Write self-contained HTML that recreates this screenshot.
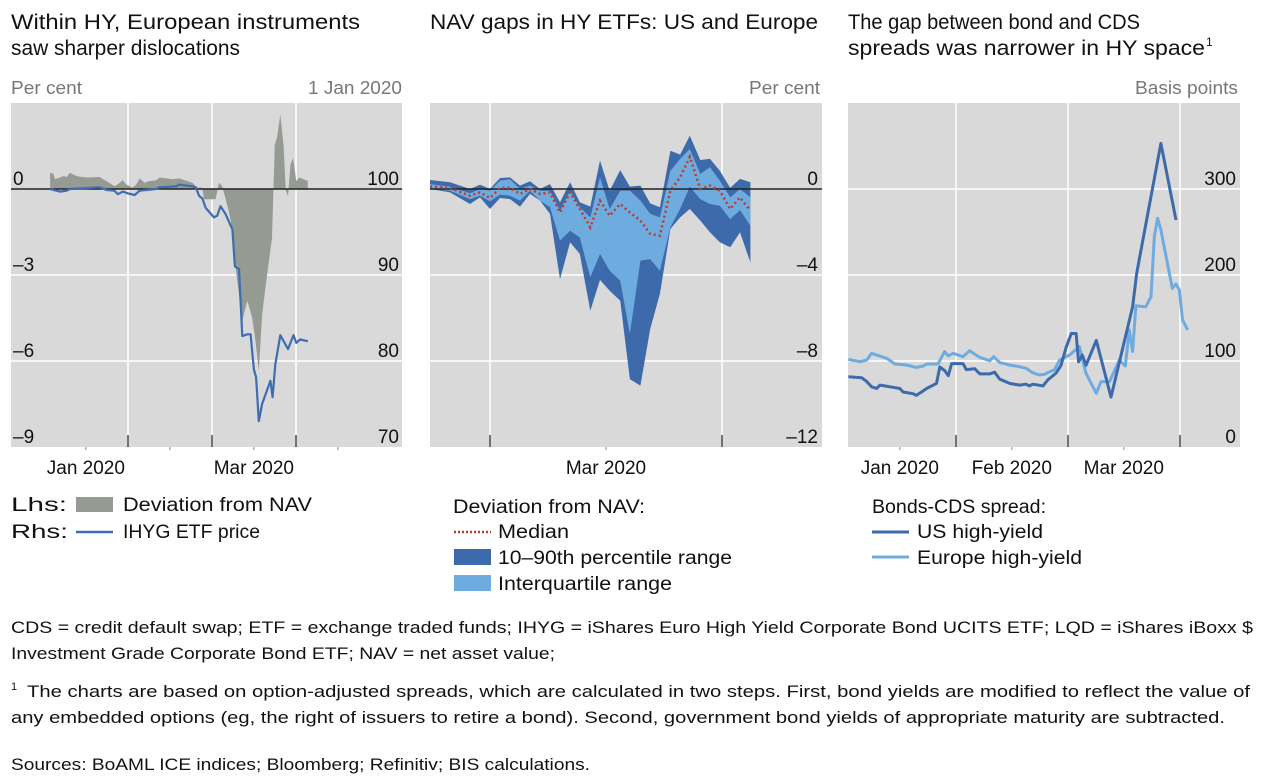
<!DOCTYPE html>
<html><head><meta charset="utf-8"><style>
html,body{margin:0;padding:0;background:#fff;}
svg{display:block;font-family:"Liberation Sans",sans-serif;}
</style></head><body>
<svg id="root" width="1262" height="782" viewBox="0 0 1262 782">
<g font-size="21" fill="#111">
<text x="11" y="29" textLength="349" lengthAdjust="spacingAndGlyphs">Within HY, European instruments</text>
<text x="11" y="55" textLength="229" lengthAdjust="spacingAndGlyphs">saw sharper dislocations</text>
<text x="430" y="29" textLength="388" lengthAdjust="spacingAndGlyphs">NAV gaps in HY ETFs: US and Europe</text>
<text x="848" y="29" textLength="292" lengthAdjust="spacingAndGlyphs">The gap between bond and CDS</text>
<text x="848" y="55" textLength="357" lengthAdjust="spacingAndGlyphs">spreads was narrower in HY space</text>
<text x="1206" y="46" font-size="12">1</text>
</g>
<g font-size="18" fill="#777">
<text x="11" y="94" textLength="71" lengthAdjust="spacingAndGlyphs">Per cent</text>
<text x="308" y="94" textLength="94" lengthAdjust="spacingAndGlyphs">1 Jan 2020</text>
<text x="749" y="94" textLength="71" lengthAdjust="spacingAndGlyphs">Per cent</text>
<text x="1135" y="94" textLength="103" lengthAdjust="spacingAndGlyphs">Basis points</text>
</g>
<g id="p1"></g>
<g id="p2"></g>
<g id="p3"></g>
<g font-size="19" fill="#111">
<g>
<text x="11" y="511" textLength="56" lengthAdjust="spacingAndGlyphs">Lhs:</text>
<rect x="76" y="497" width="37" height="15" fill="#959a93"/>
<text x="123" y="511" textLength="189" lengthAdjust="spacingAndGlyphs">Deviation from NAV</text>
<text x="11" y="538" textLength="57" lengthAdjust="spacingAndGlyphs">Rhs:</text>
<line x1="76" y1="532" x2="113" y2="532" stroke="#3e6db0" stroke-width="2.5"/>
<text x="123" y="538" textLength="137" lengthAdjust="spacingAndGlyphs">IHYG ETF price</text>
</g>
<g>
<text x="453" y="513" textLength="192" lengthAdjust="spacingAndGlyphs">Deviation from NAV:</text>
<line x1="454" y1="532" x2="491" y2="532" stroke="#c0392b" stroke-width="2.5" stroke-dasharray="2,2"/>
<text x="498" y="538" textLength="71" lengthAdjust="spacingAndGlyphs">Median</text>
<rect x="454" y="549" width="37" height="16" fill="#3c6aab"/>
<text x="498" y="564" textLength="234" lengthAdjust="spacingAndGlyphs">10–90th percentile range</text>
<rect x="454" y="575" width="37" height="16" fill="#6eabdf"/>
<text x="498" y="590" textLength="174" lengthAdjust="spacingAndGlyphs">Interquartile range</text>
</g>
<g>
<text x="872" y="513" textLength="174" lengthAdjust="spacingAndGlyphs">Bonds-CDS spread:</text>
<line x1="872" y1="532" x2="909" y2="532" stroke="#3c6aab" stroke-width="3"/>
<text x="917" y="538" textLength="126" lengthAdjust="spacingAndGlyphs">US high-yield</text>
<line x1="872" y1="557" x2="909" y2="557" stroke="#6eabdf" stroke-width="3"/>
<text x="917" y="564" textLength="165" lengthAdjust="spacingAndGlyphs">Europe high-yield</text>
</g>
</g>
<g font-size="17" fill="#111">
<text x="11" y="633" textLength="1242" lengthAdjust="spacingAndGlyphs">CDS = credit default swap; ETF = exchange traded funds; IHYG = iShares Euro High Yield Corporate Bond UCITS ETF; LQD = iShares iBoxx $</text>
<text x="11" y="659" textLength="544" lengthAdjust="spacingAndGlyphs">Investment Grade Corporate Bond ETF; NAV = net asset value;</text>
<text x="11" y="690" font-size="11">1</text>
<text x="27" y="697" textLength="1223" lengthAdjust="spacingAndGlyphs">The charts are based on option-adjusted spreads, which are calculated in two steps. First, bond yields are modified to reflect the value of</text>
<text x="11" y="723" textLength="1214" lengthAdjust="spacingAndGlyphs">any embedded options (eg, the right of issuers to retire a bond). Second, government bond yields of appropriate maturity are subtracted.</text>
<text x="11" y="770" textLength="579" lengthAdjust="spacingAndGlyphs">Sources: BoAML ICE indices; Bloomberg; Refinitiv; BIS calculations.</text>
</g>
</svg>
<script>
// ---------- Panel 1 data (days since 1 Jan 2020) ----------
const p1PriceDays=[2.2,5.8,8.2,9.4,15.4,20.2,22.6,25.6,26.8,28.6,30.4,32.9,34.7,40.7,41.9,47.9,49.1,53.9,55.1,56.3,57.5,58.7,61.7,62.9,64.1,65.9,68.4,69.3,70.8,72.0,73.8,75.0,76.2,77.0,78.0,79.2,82.2,83.0,84.0,85.8,88.6,90.6,91.6,93.0,95.8];
const p1Price=[100.0,99.7,99.8,100.0,100.1,100.2,99.9,99.8,99.4,99.7,99.5,99.3,99.8,100.0,100.2,100.3,100.5,100.3,100.2,99.2,98.9,97.8,96.7,96.9,98.0,97.1,95.3,91.0,90.7,82.9,83.1,83.1,79.0,78.1,73.0,75.0,77.7,75.8,79.6,83.0,81.4,83.0,82.1,82.5,82.3];
const p1DevDays=[2.2,3.4,4.0,5.8,7.0,8.2,9.4,11.8,15.4,20.2,22.6,25.6,26.8,28.6,29.8,32.2,33.5,34.7,36.5,38.3,40.7,41.9,46.7,49.1,53.9,55.7,57.5,58.1,62.3,63.5,64.7,67.1,68.4,69.6,72.0,73.8,75.6,76.8,78.0,79.2,80.4,82.8,83.8,84.6,85.8,87.0,87.8,88.6,89.5,90.4,91.6,92.8,95.8];
const p1Dev=[0.57,0.53,0.34,0.40,0.45,0.42,0.57,0.45,0.40,0.42,0.28,0.10,0.16,0.31,0.16,0.05,0.16,0.37,0.22,0.28,0.30,0.40,0.34,0.37,0.22,0.05,0.05,-0.36,-0.36,0.22,0.10,-0.77,-1.42,-2.77,-4.6,-3.9,-4.5,-5.3,-6.35,-4.4,-3.45,-1.7,1.55,1.79,2.6,1.5,-0.07,-0.24,0.86,1.09,0.28,0.40,0.28];
const p1LeftTicks=[0,-3,-6,-9];
const p1RightTicks=[100,90,80,70];
const p1Months=[30.5,61,91.5];
const p1Minor=[15.2,45.7,76.2,106.7];
const p1MonthLabels=[{d:15.2,t:"Jan 2020"},{d:76.2,t:"Mar 2020"}];
// ---------- Panel 2 data (days since 1 Mar 2020) ----------
const p2Days=[-8.0,-5.35,-2.67,-1.34,0,1.34,2.67,4.01,5.35,6.68,8.02,9.36,10.7,12.0,13.4,14.7,16.0,17.4,18.7,20.1,21.4,22.7,24.1,25.4,26.7,28.1,29.4,30.7,32.1,33.4,34.8];
const p2P90=[0.42,0.31,0,0.20,0,0.51,0.54,0.16,0.36,0,0.23,-0.62,0.31,-0.62,-0.82,1.32,-0.08,0.88,0.11,0.16,-0.67,-0.85,1.78,1.60,2.48,1.35,1.40,0.85,0.05,0.47,0.31];
const p2P75=[0.23,0.11,-0.20,0,-0.08,0.39,0.45,0,0.16,-0.08,-0.08,-1.01,-0.08,-0.85,-1.32,0.54,-0.93,-0.08,-0.08,-0.54,-1.16,-1.32,0.85,1.40,1.86,0.70,1.01,0.39,-0.39,0,-0.39];
const p2Median=[0.11,0.05,-0.31,-0.16,-0.42,0.05,0.05,-0.23,0,-0.23,-0.16,-1.09,-0.16,-0.93,-1.78,-0.54,-1.24,-0.70,-1.09,-1.47,-2.09,-2.17,-0.08,0.54,1.50,0,0.16,-0.08,-0.93,-0.39,-1.01];
const p2P25=[0,-0.08,-0.47,-0.31,-0.57,-0.26,-0.31,-0.54,-0.08,-0.54,-0.85,-2.40,-1.94,-2.25,-4.11,-3.02,-3.80,-4.26,-6.74,-3.33,-3.26,-3.80,-1.78,-0.93,0.11,-0.47,-0.70,-0.78,-1.40,-0.98,-1.71];
const p2P10=[0,-0.16,-0.70,-0.39,-0.93,-0.42,-0.47,-0.82,-0.23,-0.54,-1.16,-4.19,-2.48,-3.02,-5.66,-4.23,-4.73,-5.19,-8.84,-9.15,-6.51,-4.88,-1.86,-1.32,-0.93,-1.47,-2.02,-2.48,-2.71,-2.02,-3.41];
const p2Ticks=[0,-4,-8,-12];
const p2Months=[0,31];
const p2MonthLabels=[{d:15.5,t:"Mar 2020"}];
// ---------- Panel 3 data (days since 1 Jan 2020) ----------
const p3UsDays=[1.2,4.8,6.2,7.5,8.9,9.8,12.5,15.2,16.1,18.8,19.7,21.1,22.5,25.2,26.1,27.4,28.4,29.3,32.4,33.3,35.6,37.0,39.7,41.0,42.4,45.1,47.8,49.6,50.5,51.4,54.2,55.5,57.8,59.1,60.5,61.9,63.2,63.9,64.9,65.9,68.7,72.7,78.6,79.7,86.3,90.4];
const p3Us=[81.8,80.6,76,70,68,72,70,68,64,62,60,64,68,74,93,89,83,97,97,90,91,85,85,87,79,74,72,73,71,73,71,78,86,95,116,132,132,99,107,95,124,58,163,202,353,264];
const p3EuDays=[1.2,4.3,6.2,7.5,11.6,13.9,17.0,19.7,21.6,22.5,25.6,27.4,28.4,29.7,32.4,34.2,36.9,39.7,40.8,42.4,45.1,47.8,49.6,51.4,53.2,54.6,56.0,57.3,58.7,61.4,64.1,65.9,68.7,70.0,72.3,75.0,76.6,77.7,78.6,79.5,82.2,83.6,84.5,85.4,86.3,89.4,90.4,91.3,92.2,93.6];
const p3Eu=[101.9,99.2,101.2,108.9,103.1,96.5,95.3,92.6,94.2,96.5,96.5,110.9,105.8,108.9,105.0,112,104.3,100.4,105,98.1,95.3,93.4,91.5,86.4,83.7,84.5,87.6,89.5,101.2,107,116.7,85.7,62.4,76,76,101.2,94.2,136,111,164.3,163,174.8,244.6,266,252.3,184.5,189.5,182.6,147.7,136];
const p3Ticks=[300,200,100,0];
const p3Months=[30.5,61,91.5];
const p3Minor=[15.2,45.7,76.2];
const p3MonthLabels=[{d:15.2,t:"Jan 2020"},{d:45.7,t:"Feb 2020"},{d:76.2,t:"Mar 2020"}];

const NS="http://www.w3.org/2000/svg";
function mk(parent,tag,attrs){const e=document.createElementNS(NS,tag);for(const k in attrs)e.setAttribute(k,attrs[k]);parent.appendChild(e);return e;}
function lin(d0,d1,r0,r1){return v=>r0+(v-d0)*(r1-r0)/(d1-d0);}
function frame(g,x0,x1,y0,y1){
  const bg=mk(g,'rect',{x:x0,y:y0,width:x1-x0,height:y1-y0,fill:'#d9d9d9'});
  
  
}
function hgrid(g,x0,x1,y){const l=mk(g,'line',{x1:x0,x2:x1,y1:y,y2:y,stroke:'#fff','stroke-width':1.5});
  }
function vgrid(g,x,y0,y1){const l=mk(g,'line',{x1:x,x2:x,y1:y0,y2:y1,stroke:'#fff','stroke-width':1.5});
  
  const t=mk(g,'line',{x1:x,x2:x,y1:y1-12,y2:y1,stroke:'#222','stroke-width':1.2});
  }
function minor(g,x,y1){const t=mk(g,'line',{x1:x,x2:x,y1:y1,y2:y1+3,stroke:'#888','stroke-width':1});
  }
function label(g,x,y,txt,anchor,name){const t=mk(g,'text',{x:x,y:y,'text-anchor':anchor,'font-size':19,fill:'#111'});t.textContent=txt;
  return t;}
function pts(xs,ys,X,Y){return xs.map((d,i)=>X(d).toFixed(1)+','+Y(ys[i]).toFixed(1));}
function fmt(v){return v<0?'\u2013'+Math.abs(v):String(v);}

// ---------- Panel 1 ----------
(function(){
 const g=document.getElementById('p1');
 const x0=11,x1=402,y0=103,y1=447;
 const X=lin(0,91.5,44,296); const YL=lin(-9,3,y1,y0); const YR=lin(70,110,y1,y0);
 frame(g,x0,x1,y0,y1);
 p1LeftTicks.forEach(v=>{if(v!==0&&v!==-9)hgrid(g,x0,x1,YL(v));});
 p1Months.forEach(d=>vgrid(g,X(d),y0,y1));
 p1Minor.forEach(d=>{const x=X(d);if(x>=x0&&x<=x1)minor(g,x,y1);});
 const area=mk(g,'polygon',{points:[X(p1DevDays[0]).toFixed(1)+','+YL(0)].concat(pts(p1DevDays,p1Dev,X,YL)).concat([X(p1DevDays[p1DevDays.length-1]).toFixed(1)+','+YL(0)]).join(' '),fill:'#959a93'});
 
 const z=mk(g,'line',{x1:x0,x2:x1,y1:YL(0),y2:YL(0),stroke:'#222','stroke-width':1.5});
 
 const ln=mk(g,'polyline',{points:pts(p1PriceDays,p1Price,X,YR).join(' '),fill:'none',stroke:'#3e6db0','stroke-width':2.2,'stroke-linejoin':'round'});
 
 p1LeftTicks.forEach(v=>label(g,13,YL(v)-4,fmt(v),'start','left-y-tick-label'));
 p1RightTicks.forEach(v=>label(g,399,YR(v)-4,String(v),'end','right-y-tick-label'));
 p1MonthLabels.forEach(m=>label(g,X(m.d),474,m.t,'middle','x-tick-label'));
})();

// ---------- Panel 2 ----------
(function(){
 const g=document.getElementById('p2');
 const x0=430,x1=822,y0=103,y1=447;
 const X=lin(0,31,490,722); const Y=lin(-12,4,y1,y0);
 frame(g,x0,x1,y0,y1);
 p2Ticks.forEach(v=>{if(v!==0&&v!==-12)hgrid(g,x0,x1,Y(v));});
 p2Months.forEach(d=>vgrid(g,X(d),y0,y1));
 [15.5].forEach(d=>minor(g,X(d),y1));
 function band(lo,hi,col,name){const p=pts(p2Days,hi,X,Y).concat(pts(p2Days,lo,X,Y).reverse());
  const e=mk(g,'polygon',{points:p.join(' '),fill:col});}
 band(p2P10,p2P90,'#3c6aab','percentile-10-90-band');
 band(p2P25,p2P75,'#6eabdf','interquartile-band');
 const z=mk(g,'line',{x1:x0,x2:x1,y1:Y(0),y2:Y(0),stroke:'#222','stroke-width':1.5});
 
 const m=mk(g,'polyline',{points:pts(p2Days,p2Median,X,Y).join(' '),fill:'none',stroke:'#c0392b','stroke-width':2.5,'stroke-dasharray':'2,3'});
 
 p2Ticks.forEach(v=>label(g,818,Y(v)-4,fmt(v),'end','y-tick-label'));
 p2MonthLabels.forEach(mm=>label(g,X(mm.d),474,mm.t,'middle','x-tick-label'));
})();

// ---------- Panel 3 ----------
(function(){
 const g=document.getElementById('p3');
 const x0=848,x1=1240,y0=103,y1=447;
 const X=lin(0,91.5,844,1180); const Y=lin(0,400,y1,y0);
 frame(g,x0,x1,y0,y1);
 p3Ticks.forEach(v=>{if(v!==0)hgrid(g,x0,x1,Y(v));});
 p3Months.forEach(d=>vgrid(g,X(d),y0,y1));
 p3Minor.forEach(d=>minor(g,X(d),y1));
 const eu=mk(g,'polyline',{points:pts(p3EuDays,p3Eu,X,Y).join(' '),fill:'none',stroke:'#6eabdf','stroke-width':3,'stroke-linejoin':'round'});
 
 const us=mk(g,'polyline',{points:pts(p3UsDays,p3Us,X,Y).join(' '),fill:'none',stroke:'#3c6aab','stroke-width':3,'stroke-linejoin':'round'});
 
 p3Ticks.forEach(v=>label(g,1236,Y(v)-4,String(v),'end','y-tick-label'));
 p3MonthLabels.forEach(mm=>label(g,X(mm.d),474,mm.t,'middle','x-tick-label'));
})();
</script>
</body></html>
